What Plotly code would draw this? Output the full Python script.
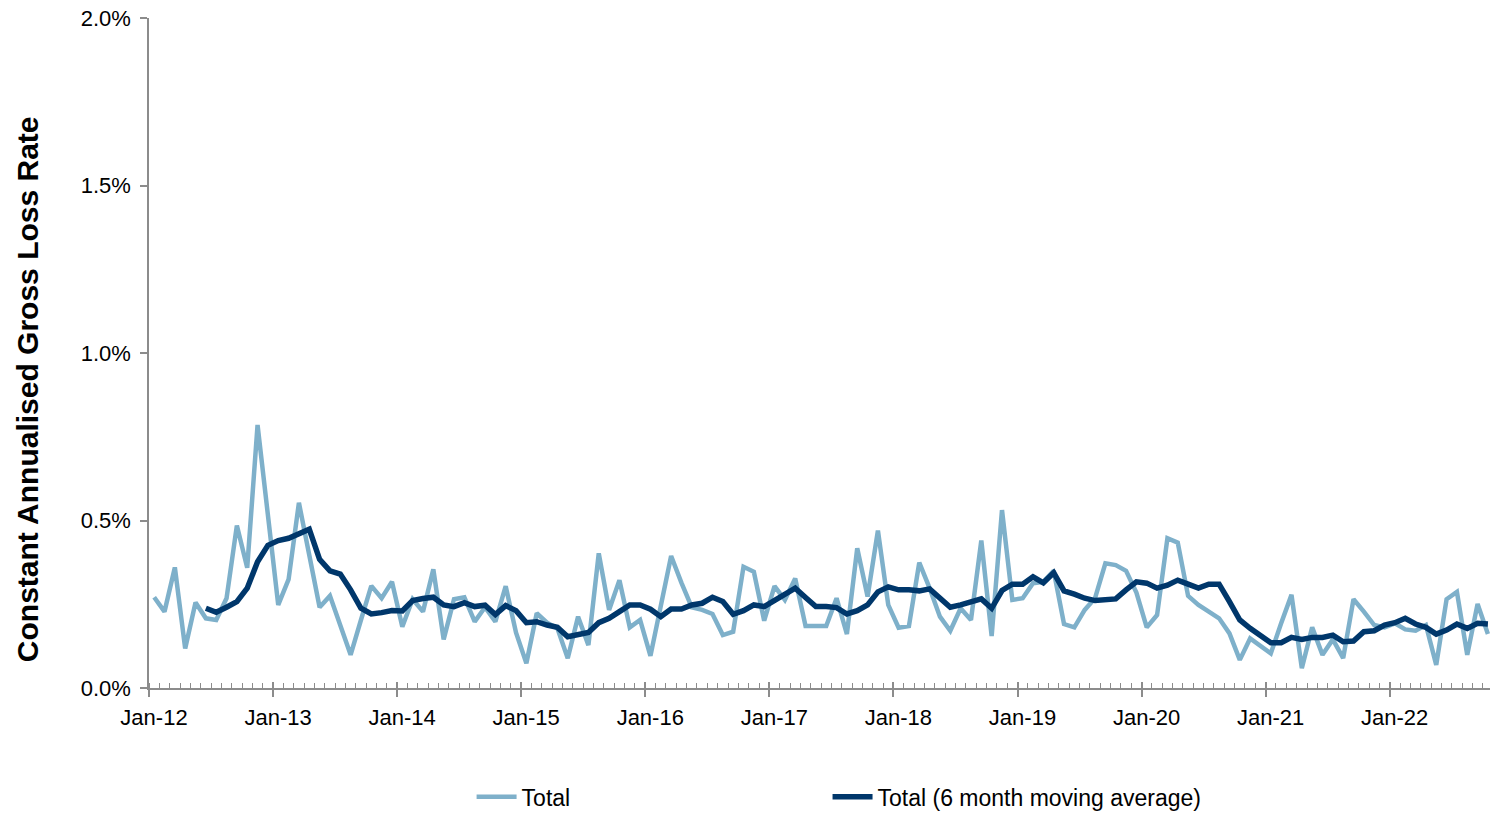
"""Constant annualised gross loss rate, monthly total and 6 month moving average."""

import plotly.graph_objects as go

# monthly values in %, Jan-12 .. Oct-22
total = [
    0.271, 0.228, 0.360, 0.118, 0.255, 0.208, 0.203, 0.268, 0.485, 0.359, 0.785, 0.512,
    0.248, 0.324, 0.553, 0.397, 0.241, 0.275, 0.190, 0.099, 0.203, 0.305, 0.268, 0.317,
    0.183, 0.265, 0.228, 0.354, 0.145, 0.265, 0.271, 0.198, 0.241, 0.198, 0.304, 0.165,
    0.074, 0.223, 0.195, 0.178, 0.089, 0.213, 0.128, 0.402, 0.233, 0.322, 0.181, 0.203,
    0.096, 0.243, 0.394, 0.314, 0.241, 0.233, 0.221, 0.158, 0.168, 0.362, 0.347, 0.201,
    0.304, 0.263, 0.327, 0.185, 0.185, 0.185, 0.268, 0.161, 0.417, 0.273, 0.470, 0.248,
    0.180, 0.185, 0.374, 0.298, 0.213, 0.171, 0.238, 0.203, 0.440, 0.155, 0.531, 0.263,
    0.268, 0.313, 0.317, 0.350, 0.191, 0.181, 0.233, 0.268, 0.372, 0.367, 0.350, 0.285,
    0.181, 0.218, 0.447, 0.434, 0.275, 0.248, 0.228, 0.208, 0.163, 0.084, 0.148, 0.125,
    0.103, 0.193, 0.278, 0.059, 0.181, 0.099, 0.145, 0.089, 0.265, 0.228, 0.188, 0.181,
    0.193, 0.175, 0.171, 0.188, 0.069, 0.265, 0.287, 0.099, 0.251, 0.161,
]

# 6 month moving average, first value at Jun-12
moving_avg = [
    0.238, 0.226, 0.241, 0.258, 0.298, 0.377, 0.426,
    0.440, 0.447, 0.460, 0.474, 0.384, 0.350, 0.340, 0.293, 0.238, 0.221, 0.225, 0.231,
    0.230, 0.261, 0.267, 0.271, 0.248, 0.243, 0.255, 0.243, 0.247, 0.219, 0.246, 0.231,
    0.195, 0.198, 0.188, 0.181, 0.153, 0.158, 0.166, 0.195, 0.208, 0.228, 0.248, 0.248,
    0.235, 0.213, 0.236, 0.236, 0.248, 0.253, 0.271, 0.258, 0.220, 0.231, 0.248, 0.243,
    0.260, 0.278, 0.298, 0.270, 0.243, 0.243, 0.240, 0.221, 0.231, 0.248, 0.287, 0.302,
    0.293, 0.293, 0.290, 0.296, 0.266, 0.241, 0.248, 0.256, 0.266, 0.238, 0.291, 0.310,
    0.310, 0.332, 0.314, 0.344, 0.290, 0.280, 0.268, 0.261, 0.265, 0.266, 0.293, 0.317,
    0.313, 0.298, 0.307, 0.322, 0.310, 0.298, 0.310, 0.310, 0.258, 0.203, 0.178, 0.158,
    0.135, 0.135, 0.151, 0.145, 0.151, 0.151, 0.158, 0.138, 0.140, 0.168, 0.171, 0.188,
    0.195, 0.208, 0.191, 0.181, 0.161, 0.173, 0.191, 0.178, 0.193, 0.191,
]

year_labels = ["Jan-12", "Jan-13", "Jan-14", "Jan-15", "Jan-16", "Jan-17",
               "Jan-18", "Jan-19", "Jan-20", "Jan-21", "Jan-22"]

LIGHT = "#7eb0ca"
DARK = "#00376b"
AXIS = "#8c8c8c"
FONT = "Arial, Liberation Sans, sans-serif"

# points sit in the middle of each month slot
x_total = [i + 0.5 for i in range(len(total))]
x_avg = x_total[len(total) - len(moving_avg):]
year_ticks = [12 * k for k in range(len(year_labels))]

fig = go.Figure()
fig.add_trace(go.Scatter(x=x_total, y=total, mode="lines", name="Total",
                         line=dict(color=LIGHT, width=4.5), legend="legend"))
fig.add_trace(go.Scatter(x=x_avg, y=moving_avg, mode="lines",
                         name="Total (6 month moving average)",
                         line=dict(color=DARK, width=5.5), legend="legend2"))
# dummy trace on overlay axis so the inside major ticks get drawn
fig.add_trace(go.Scatter(x=[None], y=[None], xaxis="x2", showlegend=False,
                         hoverinfo="skip"))

legend_style = dict(orientation="h", xref="container", yref="container",
                    y=0.021, xanchor="left", yanchor="middle",
                    font=dict(size=23), itemwidth=40)

fig.update_layout(
    width=1490, height=814,
    margin=dict(l=149, r=0, t=18, b=126),
    plot_bgcolor="white", paper_bgcolor="white",
    font=dict(family=FONT, size=22, color="black"),
    showlegend=True,
    legend=dict(x=0.3165, **legend_style),
    legend2=dict(x=0.5554, **legend_style),
    xaxis=dict(
        range=[0, 129.7], showgrid=False, zeroline=False,
        showline=True, linecolor=AXIS, linewidth=1.5,
        tickvals=year_ticks, ticktext=year_labels, ticklabelshift=5,
        ticks="outside", ticklen=7, tickcolor=AXIS, tickwidth=1.5,
        ticklabelstandoff=2,
        minor=dict(dtick=1, tick0=0, ticks="inside", ticklen=5,
                   tickcolor=AXIS, tickwidth=1.2, showgrid=False),
    ),
    xaxis2=dict(
        overlaying="x", anchor="y", matches="x", range=[0, 129.7],
        showgrid=False, zeroline=False, showline=False, showticklabels=False,
        tickvals=year_ticks, ticks="inside", ticklen=6, tickcolor=AXIS,
        tickwidth=1.5, side="bottom",
    ),
    yaxis=dict(
        range=[0, 2], dtick=0.5, tickformat=".1f", ticksuffix="%",
        showgrid=False, zeroline=False,
        showline=True, linecolor=AXIS, linewidth=1.5,
        ticks="outside", ticklen=7, tickcolor=AXIS, tickwidth=1.5,
        ticklabelstandoff=5,
    ),
    annotations=[dict(
        text="<b>Constant Annualised Gross Loss Rate</b>",
        xref="paper", yref="paper", x=-0.091, y=0.446,
        xanchor="center", yanchor="middle", textangle=-90, showarrow=False,
        font=dict(size=30, family=FONT, color="black"),
    )],
)

# drop the default page margin so the figure sits at the window origin
fig.write_html("out.html", config={"displayModeBar": False},
               post_script="document.body.style.margin = '0';")
